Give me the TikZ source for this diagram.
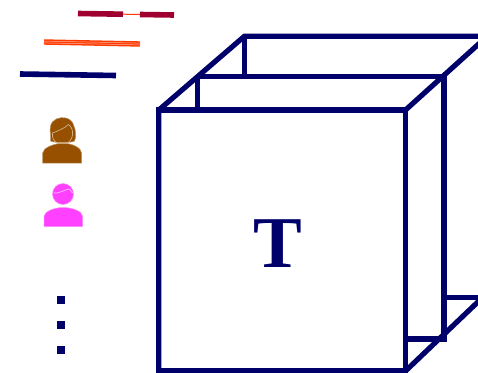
\documentclass[tikz,border=0pt]{standalone}
\usepackage{fontspec}
\setmainfont{Liberation Serif}
\usetikzlibrary{calc,positioning}
\definecolor{Navy}{HTML}{00006B}
\definecolor{Wine}{HTML}{A00030}
\definecolor{Flame}{HTML}{FF3A00}
\definecolor{Umber}{HTML}{965000}
\definecolor{Pink}{HTML}{FF40FF}
\begin{document}
\begin{tikzpicture}[
  x=1pt,y=-1pt,
  edge/.style={draw=Navy,line width=5.2pt,line join=miter},
  slant/.style={edge,line cap=round},
  wineline/.style={draw=Wine,line width=5.6pt},
  fineline/.style={draw=Flame,line width=1pt},
  navyline/.style={draw=Navy,line width=5.6pt},
  person/.style={fill=#1,draw=#1!60!white,line width=.5pt},
  detail/.style={draw=#1,line width=.7pt},
  dotbox/.style={fill=Navy,minimum size=8pt,inner sep=0pt},
  letter/.style={font=\bfseries\fontsize{73}{73}\selectfont,text=Navy,inner sep=0pt}
]
\useasboundingbox (0,0) rectangle (478,372);
\clip (0,0) rectangle (478,372);
% cuboid corners
\coordinate (ftl) at (158.8,110); \coordinate (ftr) at (405.5,110);
\coordinate (fbr) at (405.5,371); \coordinate (fbl) at (158.8,371);
\coordinate (mtl) at (197.5,76.7); \coordinate (mtr) at (444,76.7);
\coordinate (mbr) at (444,339); \coordinate (mbe) at (405.5,339);
\coordinate (btl) at (244.5,36.2); \coordinate (btr) at (482,36.2);
\coordinate (bbe) at (444,297.5); \coordinate (bbr) at (482,297.5);
\coordinate (dtr) at (482,41); \coordinate (dbr) at (482,298);
\draw[edge] (fbl)--(ftl)--(btl)--(btr);
\draw[edge] (btl)--(btl|-mtl);
\draw[edge] (mtl)--(mtr)--(mbr)--(mbe);
\draw[edge] (mtl)--(mtl|-ftl);
\draw[edge] (bbe)--(bbr);
\draw[slant] (ftr)--(dtr);
\draw[slant] (fbr)--(dbr);
\draw[edge] (ftl) rectangle (fbr);
\node[letter] (tlabel) at (278,244) {T};
% legend lines
\coordinate (wa) at (78,13.5); \coordinate (wb) at (123,14.2);
\coordinate (wc) at (140,14.5); \coordinate (wd) at (174,15);
\draw[fineline] (wb)--(wc);
\draw[wineline] (wa)--(wb); \draw[wineline] (wc)--(wd);
\coordinate (fa) at (44,42); \coordinate (fb) at (140,44);
\draw[draw=Flame,line width=5.4pt] (fa)--(fb);
\draw[draw=Flame!40!white,line width=.5pt] ($(fa)+(0,-.9)$)--($(fb)+(0,-.9)$);
\draw[draw=Flame!40!white,line width=.5pt] ($(fa)+(0,.9)$)--($(fb)+(0,.9)$);
\coordinate (na) at (20,74); \coordinate (nb) at (116,75.5);
\draw[navyline] (na)--(nb);
% woman
\path[person=Umber] (42.7,163) -- (42.7,153) .. controls (43,148) and (53,144) .. (60,143.5) -- (66,143.5) .. controls (73,144) and (81.5,148) .. (81.5,153) -- (81.5,163) -- cycle;
\path[person=Umber] (50.5,141) .. controls (51,136) and (49.5,130) .. (50.5,126) .. controls (52,119) and (60,116.5) .. (66,118) .. controls (70,119) and (73,122) .. (73.5,125) .. controls (76,130) and (76.5,137) .. (74.5,141) .. controls (72,143) and (54,143) .. (50.5,141) -- cycle;
\draw[detail=Umber!45!white] (52.5,133) .. controls (58,131) and (65,128) .. (68.5,124.5) .. controls (72,127) and (73,131) .. (72.5,135) .. controls (72,139) and (69,143) .. (66,143.5);
\draw[detail=Umber!45!white] (52.5,133) .. controls (52,138) and (54,142) .. (58,143.5);
% man
\path[person=Pink] (44,226.5) -- (44,216) .. controls (45,211) and (55,207.5) .. (63,207.5) .. controls (72,207.5) and (82,211) .. (82.5,216) -- (82.5,226.5) -- cycle;
\node[person=Pink,circle,minimum size=21pt,inner sep=0pt] (manhead) at (63,194) {};
\draw[detail=Pink!35!white] (53.5,193) .. controls (58,194) and (64,190) .. (69,189) .. controls (70.5,189.5) and (71.5,192) .. (72.5,193);
% dots
\foreach \i/\py in {1/299.5,2/324.5,3/349.5}{
  \node[dotbox] (dot\i) at (61,\py) {};
}
\end{tikzpicture}
\end{document}
